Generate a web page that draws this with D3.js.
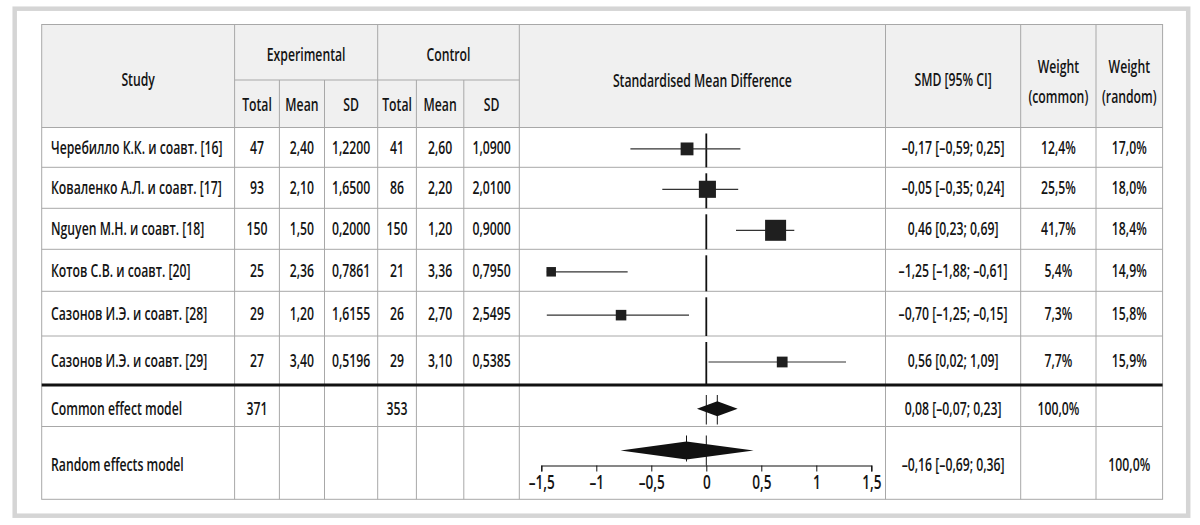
<!DOCTYPE html>
<html>
<head>
<meta charset="utf-8">
<script src="https://cdn.jsdelivr.net/npm/d3@7/dist/d3.min.js"></script>
<style>
  html, body { margin: 0; padding: 0; background: #fff; }
  svg text { font-family: "Open Sans", "Noto Sans", "DejaVu Sans", sans-serif; font-weight: 600; fill: #141414; }
</style>
</head>
<body>
<svg id="chart" width="1200" height="525"></svg>
<script>
// ---------------- data ----------------
const studies = [
  "Черебилло К.К. и соавт. [16]",
  "Коваленко А.Л. и соавт. [17]",
  "Nguyen M.H. и соавт. [18]",
  "Котов С.В. и соавт. [20]",
  "Сазонов И.Э. и соавт. [28]",
  "Сазонов И.Э. и соавт. [29]"
];
const expTotal = [47, 93, 150, 25, 29, 27];
const expMean = [2.40, 2.10, 1.50, 2.36, 1.20, 3.40];
const expSD = [1.2200, 1.6500, 0.2000, 0.7861, 1.6155, 0.5196];
const ctrlTotal = [41, 86, 150, 21, 26, 29];
const ctrlMean = [2.60, 2.20, 1.20, 3.36, 2.70, 3.10];
const ctrlSD = [1.0900, 2.0100, 0.9000, 0.7950, 2.5495, 0.5385];
// SMD [95% CI] as printed
const smd = [-0.17, -0.05, 0.46, -1.25, -0.70, 0.56];
const smdLow = [-0.59, -0.35, 0.23, -1.88, -1.25, 0.02];
const smdHigh = [0.25, 0.24, 0.69, -0.61, -0.15, 1.09];
const weightCommon = [12.4, 25.5, 41.7, 5.4, 7.3, 7.7];
const weightRandom = [17.0, 18.0, 18.4, 14.9, 15.8, 15.9];
// positions of the marks as drawn in the plot column
const plotEst = [-0.175, 0.01, 0.63, -1.41, -0.775, 0.69];
const plotLow = [-0.69, -0.40, 0.27, -1.45, -1.45, 0.02];
const plotHigh = [0.31, 0.29, 0.80, -0.715, -0.157, 1.27];
// summary models
const summaryLabels = ["Common effect model", "Random effects model"];
const summaryExpTotal = [371, null];
const summaryCtrlTotal = [353, null];
const summarySmd = [0.08, -0.16];
const summaryLow = [-0.07, -0.69];
const summaryHigh = [0.23, 0.36];
const summaryWeightCommon = [100.0, null];
const summaryWeightRandom = [null, 100.0];
const summaryPlotEst = [0.10, -0.18];
const summaryPlotLow = [-0.085, -0.78];
const summaryPlotHigh = [0.285, 0.43];
// axis ticks
const axisTicks = [-1.5, -1, -0.5, 0, 0.5, 1, 1.5];

// ---------------- layout ----------------
const COND = 0.68;       // horizontal condensing of glyphs
const FS = 18;
const colX = [41.7, 234.6, 279.4, 324.5, 377.7, 416.4, 463.8, 519.3, 885.5, 1020.7, 1096, 1162.6];
const headTop = 24.5, headMid = 80, headBot = 127.5;
const rowY = [127.5, 167.3, 208.3, 249.3, 291.3, 336, 385, 426.5, 499.3];
const axisY = 465.5;

const svg = d3.select("#chart");
const fmt = (v, d) => (v < 0 ? "–" : "") + Math.abs(v).toFixed(d).replace(".", ",");
const cx = i => (colX[i] + colX[i + 1]) / 2;
const rowC = i => (rowY[i] + rowY[i + 1]) / 2;

// outer frame
svg.append("rect").attr("x", 14.7).attr("y", 8.7).attr("width", 1173.5).attr("height", 507)
  .attr("fill", "#fff").attr("stroke", "#d5d5d5").attr("stroke-width", 4.5);

// header background
svg.append("rect").attr("x", colX[0]).attr("y", headTop)
  .attr("width", colX[11] - colX[0]).attr("height", headBot - headTop).attr("fill", "#f0f0f0");

// grid
const grid = svg.append("g").attr("stroke", "#a8a8a8").attr("stroke-width", 1).attr("fill", "none");
grid.append("rect").attr("x", colX[0]).attr("y", headTop).attr("width", colX[11] - colX[0]).attr("height", rowY[8] - headTop);
[1, 4, 7, 8, 9, 10].forEach(i => grid.append("line").attr("x1", colX[i]).attr("x2", colX[i]).attr("y1", headTop).attr("y2", rowY[8]));
[2, 3, 5, 6].forEach(i => grid.append("line").attr("x1", colX[i]).attr("x2", colX[i]).attr("y1", headMid).attr("y2", rowY[8]));
grid.append("line").attr("x1", colX[1]).attr("x2", colX[7]).attr("y1", headMid).attr("y2", headMid);
rowY.slice(0, 8).forEach((y, i) => {
  if (i === 6) return;
  grid.append("line").attr("x1", colX[0]).attr("x2", colX[11]).attr("y1", y).attr("y2", y);
});
svg.append("line").attr("x1", colX[0]).attr("x2", colX[11]).attr("y1", rowY[6]).attr("y2", rowY[6])
  .attr("stroke", "#111").attr("stroke-width", 3);

// text helper
const texts = svg.append("g").attr("font-size", FS);
function txt(x, y, s, anchor) {
  return texts.append("text").attr("x", x).attr("y", y).attr("dy", "0.35em")
    .attr("text-anchor", anchor || "middle").text(s);
}

// header
txt(cx(0), 80, "Study");
txt((colX[1] + colX[4]) / 2, 55, "Experimental");
txt((colX[4] + colX[7]) / 2, 55, "Control");
["Total", "Mean", "SD", "Total", "Mean", "SD"].forEach((s, k) => txt(cx(k + 1), 105, s));
txt(cx(7), 81, "Standardised Mean Difference");
txt(cx(8), 80, "SMD [95% CI]");
txt(cx(9), 66.5, "Weight"); txt(cx(9), 96.5, "(common)");
txt(cx(10), 66.5, "Weight"); txt(cx(10), 96.5, "(random)");

// study rows
studies.forEach((s, i) => {
  const y = rowC(i);
  txt(51, y, s, "start");
  txt(cx(1), y, String(expTotal[i]));
  txt(cx(2), y, fmt(expMean[i], 2));
  txt(cx(3), y, fmt(expSD[i], 4));
  txt(cx(4), y, String(ctrlTotal[i]));
  txt(cx(5), y, fmt(ctrlMean[i], 2));
  txt(cx(6), y, fmt(ctrlSD[i], 4));
  txt(cx(8), y, `${fmt(smd[i], 2)} [${fmt(smdLow[i], 2)}; ${fmt(smdHigh[i], 2)}]`);
  txt(cx(9), y, fmt(weightCommon[i], 1) + "%");
  txt(cx(10), y, fmt(weightRandom[i], 1) + "%");
});

// summary rows
summaryLabels.forEach((s, k) => {
  const i = 6 + k;
  const y = k === 0 ? rowC(i) + 3 : rowC(i) + 2;
  txt(51, y, s, "start");
  if (summaryExpTotal[k] != null) txt(cx(1), y, String(summaryExpTotal[k]));
  if (summaryCtrlTotal[k] != null) txt(cx(4), y, String(summaryCtrlTotal[k]));
  txt(cx(8), y, `${fmt(summarySmd[k], 2)} [${fmt(summaryLow[k], 2)}; ${fmt(summaryHigh[k], 2)}]`);
  if (summaryWeightCommon[k] != null) txt(cx(9), y, fmt(summaryWeightCommon[k], 1) + "%");
  if (summaryWeightRandom[k] != null) txt(cx(10), y, fmt(summaryWeightRandom[k], 1) + "%");
});

// ---------------- forest plot ----------------
const x = d3.scaleLinear().domain([-1.5, 1.5]).range([541.3, 871.3]);
const size = d3.scaleSqrt().domain([5.4, 41.7]).range([9.5, 21]);
const plot = svg.append("g");

studies.forEach((s, i) => {
  plot.append("line").attr("x1", x(0)).attr("x2", x(0))
    .attr("y1", rowY[i] + 6).attr("y2", rowY[i + 1])
    .attr("stroke", "#111").attr("stroke-width", 1.8);
});
plot.append("line").attr("x1", x(0)).attr("x2", x(0)).attr("y1", rowY[6] + 10).attr("y2", rowY[7] - 2)
  .attr("stroke", "#111").attr("stroke-width", 1);
plot.append("line").attr("x1", x(0)).attr("x2", x(0)).attr("y1", rowY[7] + 9).attr("y2", axisY)
  .attr("stroke", "#111").attr("stroke-width", 1);

studies.forEach((s, i) => {
  const y = rowC(i) + 1.5;
  plot.append("line").attr("x1", x(plotLow[i])).attr("x2", x(plotHigh[i]))
    .attr("y1", y).attr("y2", y).attr("stroke", "#333").attr("stroke-width", 1.2);
  const sz = size(weightCommon[i]);
  plot.append("rect").attr("x", x(plotEst[i]) - sz / 2).attr("y", y - sz / 2)
    .attr("width", sz).attr("height", sz).attr("fill", "#1f1f1f");
});

const diaH = [15, 18];
const tickSpan = [[rowY[6] + 10, rowY[7] - 2], [rowY[7] + 9, rowY[7] + 35]];
summaryLabels.forEach((s, k) => {
  const y = k === 0 ? rowC(6 + k) + 3 : rowC(6 + k) - 12.5;
  const h = diaH[k] / 2;
  const pts = [[x(summaryPlotLow[k]), y], [x(summaryPlotEst[k]), y - h], [x(summaryPlotHigh[k]), y], [x(summaryPlotEst[k]), y + h]];
  plot.append("polygon").attr("points", pts.map(p => p.join(",")).join(" ")).attr("fill", "#111");
  plot.append("line").attr("x1", x(summaryPlotEst[k])).attr("x2", x(summaryPlotEst[k]))
    .attr("y1", tickSpan[k][0]).attr("y2", tickSpan[k][1]).attr("stroke", "#111").attr("stroke-width", 1);
});

// axis
const axis = d3.axisBottom(x).tickValues(axisTicks).tickSize(6).tickSizeOuter(6)
  .tickFormat(v => (v < 0 ? "–" : "") + String(Math.abs(v)).replace(".", ","));
const ag = svg.append("g").attr("transform", `translate(0,${axisY})`).call(axis);
ag.select(".domain").attr("stroke", "#111").attr("stroke-width", 1.2);
ag.selectAll(".tick line").attr("stroke", "#111").attr("stroke-width", 1);
ag.selectAll(".tick text").attr("font-size", 20).attr("font-family", null).attr("fill", "#141414").attr("dy", "0.75em");

// condense all text glyphs horizontally about their anchor point
svg.selectAll("text").each(function () {
  const ax = +this.getAttribute("x") || 0;
  this.setAttribute("transform", `translate(${ax},0) scale(${COND},1) translate(${-ax},0)`);
});
</script>
</body>
</html>
